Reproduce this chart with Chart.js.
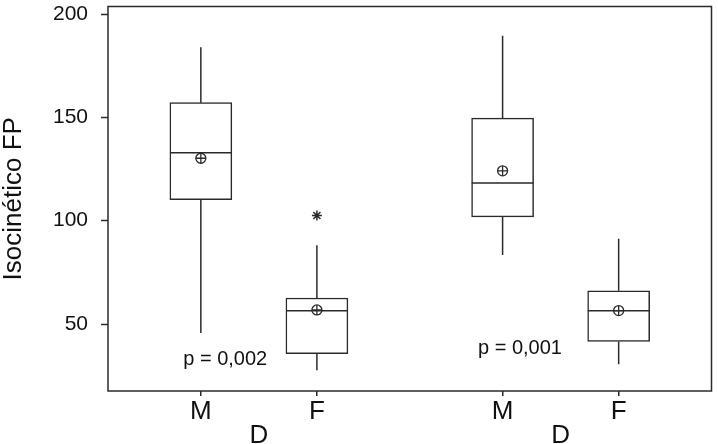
<!DOCTYPE html>
<html>
<head>
<meta charset="utf-8">
<script src="https://cdn.jsdelivr.net/npm/chart.js@4.4.0/dist/chart.umd.min.js"></script>
<style>
  html, body { margin: 0; padding: 0; background: #fff; }
  #wrap { width: 718px; height: 444px; }
</style>
</head>
<body>
<div id="wrap"><canvas id="chart"></canvas></div>
<script>
// categories and where they sit on the x axis
const categories = ['M', 'F', 'M', 'F'];
const positions = [1, 2, 3.6, 4.6];
const groupLabels = ['D', 'D'];
const groupCenters = [1.5, 4.1];

// box plot values
const whiskerLow = [45.5, 27.5, 83.3, 30.4];
const q1 = [110.1, 35.6, 101.7, 41.5];
const median = [132.8, 56.3, 118.1, 56.3];
const q3 = [157.0, 62.5, 149.5, 66.0];
const whiskerHigh = [183.8, 88.0, 189.4, 91.2];
const means = [130.1, 56.7, 124.0, 56.4];
const outlierPos = [2];
const outlierVal = [102.4];

// annotations
const pTexts = ['p = 0,002', 'p = 0,001'];
const pX = [1.21, 3.75];
const pY = [30.0, 35.6];

const yTicks = [50, 100, 150, 200];

const ink = '#2a2a2a';
const halfBox = 0.266;

const whiskerPts = [];
const medianPts = [];
positions.forEach((p, i) => {
    whiskerPts.push({x: p, y: whiskerLow[i]}, {x: p, y: q1[i]}, {x: p, y: null},
                    {x: p, y: q3[i]}, {x: p, y: whiskerHigh[i]}, {x: p, y: null});
    medianPts.push({x: p - halfBox, y: median[i]}, {x: p + halfBox, y: median[i]}, {x: p, y: null});
});

const frameAndText = {
    id: 'frameAndText',
    afterDraw(chart) {
        const {ctx, chartArea: a, scales: {x, y}} = chart;
        ctx.save();
        ctx.strokeStyle = ink;
        ctx.lineWidth = 1.5;
        ctx.strokeRect(a.left, a.top, a.right - a.left, a.bottom - a.top);

        // y tick marks
        yTicks.forEach(v => {
            const py = Math.round(y.getPixelForValue(v)) + 0.5;
            ctx.beginPath();
            ctx.moveTo(a.left - 7, py);
            ctx.lineTo(a.left, py);
            ctx.stroke();
        });

        ctx.fillStyle = '#111';
        ctx.textAlign = 'center';
        ctx.textBaseline = 'alphabetic';
        ctx.font = '20px "Liberation Sans", Arial, sans-serif';
        pTexts.forEach((t, i) => {
            ctx.fillText(t, x.getPixelForValue(pX[i]), y.getPixelForValue(pY[i]));
        });

        ctx.font = '26px "Liberation Sans", Arial, sans-serif';
        groupLabels.forEach((t, i) => {
            ctx.fillText(t, x.getPixelForValue(groupCenters[i]), a.bottom + 52);
        });
        ctx.restore();
    }
};

new Chart(document.getElementById('chart'), {
    type: 'bar',
    data: {
        datasets: [
            {
                type: 'line',
                order: 3,
                data: whiskerPts,
                borderColor: ink,
                borderWidth: 1.5,
                pointRadius: 0,
                spanGaps: false
            },
            {
                type: 'bar',
                order: 2,
                data: positions.map((p, i) => ({x: p, y: [q1[i], q3[i]]})),
                backgroundColor: '#fff',
                borderColor: ink,
                borderWidth: 1.5,
                borderSkipped: false,
                barThickness: 62
            },
            {
                type: 'line',
                order: 1,
                data: medianPts,
                borderColor: ink,
                borderWidth: 1.5,
                pointRadius: 0,
                spanGaps: false
            },
            {
                type: 'line',
                order: 0,
                data: positions.map((p, i) => ({x: p, y: means[i]})),
                showLine: false,
                pointStyle: 'circle',
                pointRadius: 5,
                pointBackgroundColor: 'rgba(0,0,0,0)',
                pointBorderColor: ink,
                pointBorderWidth: 1.3
            },
            {
                type: 'line',
                order: 0,
                data: positions.map((p, i) => ({x: p, y: means[i]})),
                showLine: false,
                pointStyle: 'cross',
                pointRadius: 5,
                pointBorderColor: ink,
                pointBorderWidth: 1.3
            },
            {
                type: 'line',
                order: 0,
                data: outlierPos.map((p, i) => ({x: p, y: outlierVal[i]})),
                showLine: false,
                pointStyle: 'star',
                pointRadius: 5,
                pointBorderColor: ink,
                pointBorderWidth: 1.5
            }
        ]
    },
    options: {
        responsive: true,
        maintainAspectRatio: false,
        animation: false,
        layout: { padding: { top: 4, right: 4, left: 0, bottom: 0 } },
        plugins: { legend: { display: false }, tooltip: { enabled: false } },
        scales: {
            x: {
                type: 'linear',
                min: 0.2,
                max: 5.4,
                offset: false,
                afterBuildTicks: s => { s.ticks = positions.map(v => ({value: v})); },
                afterFit: s => { s.height = 53; s.paddingLeft = 0; s.paddingRight = 0; },
                ticks: {
                    callback: (v, i) => categories[i],
                    color: '#111',
                    font: { family: '"Liberation Sans", Arial, sans-serif', size: 26 },
                    padding: 0,
                    maxRotation: 0,
                    autoSkip: false
                },
                grid: { drawOnChartArea: false, offset: false, tickLength: 5, color: ink, lineWidth: 1.5 },
                border: { display: false }
            },
            y: {
                min: 17.5,
                max: 203.5,
                afterBuildTicks: s => { s.ticks = yTicks.map(v => ({value: v})); },
                afterFit: s => { s.width = 108; s.paddingTop = 0; s.paddingBottom = 0; },
                ticks: {
                    color: '#111',
                    font: { family: '"Liberation Sans", Arial, sans-serif', size: 21 },
                    padding: 12
                },
                grid: { display: false },
                border: { display: false },
                title: {
                    display: true,
                    text: 'Isocinético FP',
                    color: '#111',
                    font: { family: '"Liberation Sans", Arial, sans-serif', size: 26, lineHeight: 1 },
                    padding: { top: 1, bottom: 0 }
                }
            }
        }
    },
    plugins: [frameAndText]
});
</script>
</body>
</html>
